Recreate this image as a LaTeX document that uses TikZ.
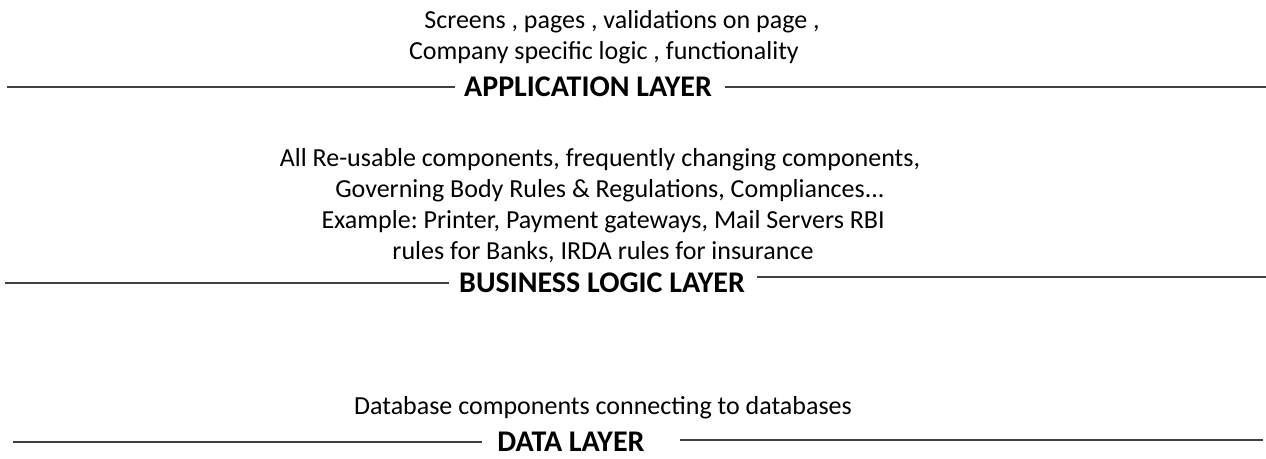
\documentclass[tikz,border=0pt]{standalone}
\usepackage{fontspec}
\setmainfont{Carlito}
\frenchspacing
\usepackage{tikz}
\usetikzlibrary{
  calc,
  positioning,
}
\tikzstyle{desc} = [
  anchor=base,
  inner sep=0pt,
  font=\fontsize{26}{31}\selectfont,
  text=black,
]
\tikzstyle{layer} = [
  anchor=base,
  inner sep=0pt,
  font=\fontsize{30}{36}\bfseries\selectfont,
  text=black,
]
\tikzstyle{rule} = [
  line width=1.6pt,
  color=black!75,
]

\begin{document}
\begin{tikzpicture}[x=1pt,y=1pt]
			\useasboundingbox (0,0) rectangle (1266,-458);

			% application layer
			\node[desc] (app1) at (622,-28) {Screens , pages , validations on page ,};
			\node[desc] (app2) at (604,-59) {Company specific logic , functionality};
			\node[layer] (app) at (588,-96) {APPLICATION LAYER};
			\coordinate (appl) at (7,-87);
			\coordinate (appr) at (1266,-87);
			\draw[rule] (appl) -- ([xshift=-9pt]app.west |- appl);
			\draw[rule] ([xshift=13pt]app.east |- appr) -- (appr);

			% business logic layer
			\node[desc] (biz1) at (600,-166) {All Re-usable components, frequently changing components,};
			\node[desc] (biz2) at (607,-197) {\ Governing Body Rules \& Regulations, Compliances...};
			\node[desc] (biz3) at (603,-228) {Example: Printer, Payment gateways, Mail Servers RBI};
			\node[desc] (biz4) at (603,-259) {rules for Banks, IRDA rules for insurance};
			\node[layer] (biz) at (602,-292) {BUSINESS LOGIC LAYER};
			\coordinate (bizl) at (5,-283);
			\coordinate (bizr) at (1266,-277);
			\draw[rule] (bizl) -- ([xshift=-10pt]biz.west |- bizl);
			\draw[rule] ([xshift=12pt]biz.east |- bizr) -- (bizr);

			% data layer
			\node[desc] (data1) at (603,-414) {Database components connecting to databases};
			\node[layer] (data) at (571,-451) {DATA LAYER};
			\coordinate (datal) at (13,-442);
			\coordinate (datar) at (1263,-440);
			\draw[rule] (datal) -- ([xshift=-15pt]data.west |- datal);
			\draw[rule] ([xshift=35pt]data.east |- datar) -- (datar);
		\end{tikzpicture}
\end{document}
